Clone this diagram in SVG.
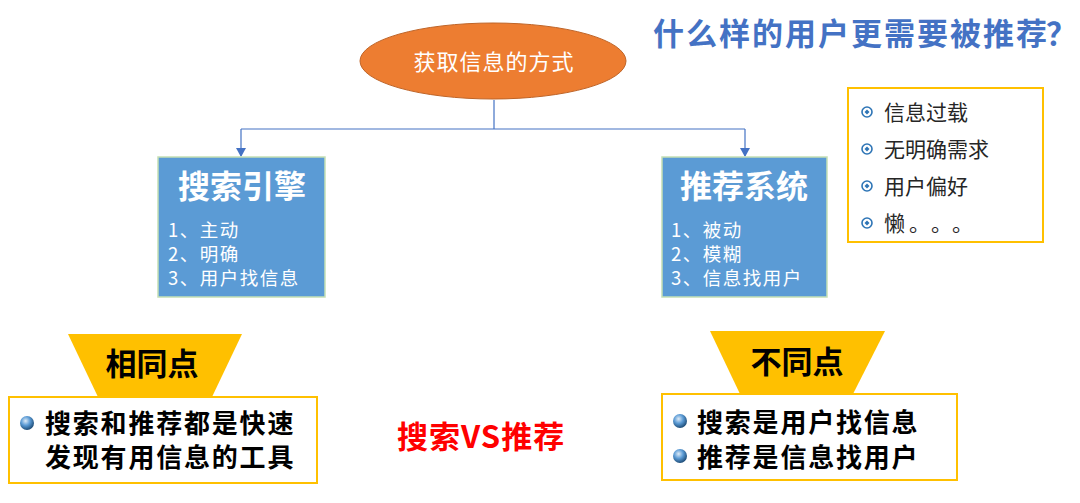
<svg xmlns="http://www.w3.org/2000/svg" width="1080" height="503" viewBox="0 0 1080 503">
<defs>
<style>
text{font-family:"Noto Sans CJK SC","Noto Sans",sans-serif;}
.box{fill:#5B9BD5;stroke:#C5E0B4;stroke-width:1.5;}
.ttl{fill:#fff;font-weight:bold;font-size:32px;text-anchor:middle;}
.itm{fill:#fff;font-size:18.5px;letter-spacing:1.5px;}
.trap{fill:#FFC000;}
.trt{fill:#000;font-weight:bold;font-size:31px;text-anchor:middle;}
.obox{fill:#fff;stroke:#FFC000;stroke-width:2;}
.bt{fill:#000;font-weight:bold;font-size:26px;letter-spacing:1.8px;}
.lt{fill:#262626;font-size:21px;}
.conn{fill:none;stroke:#4472C4;stroke-width:1.2;}
.rb{fill:#fff;stroke:#2E75B6;stroke-width:1.6;}
.rd{fill:#2E75B6;}
</style>
<marker id="arr" markerWidth="10" markerHeight="10" refX="8" refY="5" orient="auto" markerUnits="userSpaceOnUse">
<path d="M0,0 L9,5 L0,10 z" fill="#4472C4"/>
</marker>
<radialGradient id="ball" cx="0.4" cy="0.35" r="0.65">
<stop offset="0" stop-color="#DEEBF7"/>
<stop offset="0.5" stop-color="#5B9BD5"/>
<stop offset="1" stop-color="#1F4E79"/>
</radialGradient>
</defs>
<rect width="1080" height="503" fill="#fff"/>

<g id="connectors">
<path class="conn" d="M494,100 V129 M241,129 H745"/>
<path class="conn" d="M241,129 V156" marker-end="url(#arr)"/>
<path class="conn" d="M745,129 V156" marker-end="url(#arr)"/>
</g>

<g id="root">
<ellipse cx="493" cy="61" rx="133" ry="38" fill="#ED7D31" stroke="#BF6427" stroke-width="1"/>
<text x="494" y="70" fill="#fff" font-size="22" letter-spacing="1" text-anchor="middle">获取信息的方式</text>
</g>

<g id="search">
<rect class="box" x="158" y="157" width="167" height="140"/>
<text class="ttl" x="242" y="198">搜索引擎</text>
<text class="itm" x="168" y="237">1、主动<tspan x="168" dy="24">2、明确</tspan><tspan x="168" dy="24">3、用户找信息</tspan></text>
</g>

<g id="recommend">
<rect class="box" x="662" y="157" width="165" height="140"/>
<text class="ttl" x="744" y="198">推荐系统</text>
<text class="itm" x="671" y="237">1、被动<tspan x="671" dy="24">2、模糊</tspan><tspan x="671" dy="24">3、信息找用户</tspan></text>
</g>

<g id="question">
<text x="653" y="45" fill="#4472C4" font-weight="bold" font-size="31" letter-spacing="2">什么样的用户更需要被推荐<tspan x="1046" letter-spacing="0">？</tspan></text>
</g>

<g id="reasons">
<rect x="848" y="88" width="195" height="154" fill="#fff" stroke="#FFC000" stroke-width="2"/>
<circle class="rb" cx="867" cy="112" r="5"/><path class="rd" d="M867,109.5 L869.5,112 L867,114.5 L864.5,112 z"/>
<circle class="rb" cx="867" cy="149" r="5"/><path class="rd" d="M867,146.5 L869.5,149 L867,151.5 L864.5,149 z"/>
<circle class="rb" cx="867" cy="186" r="5"/><path class="rd" d="M867,183.5 L869.5,186 L867,188.5 L864.5,186 z"/>
<circle class="rb" cx="867" cy="223" r="5"/><path class="rd" d="M867,220.5 L869.5,223 L867,225.5 L864.5,223 z"/>
<text class="lt" x="884" y="120">信息过载</text>
<text class="lt" x="884" y="157">无明确需求</text>
<text class="lt" x="884" y="194">用户偏好</text>
<text class="lt" x="884 909 931 952" y="231">懒。。。</text>
</g>

<g id="same">
<polygon class="trap" points="68,334 242,334 212,397 98,397"/>
<text class="trt" x="152" y="375">相同点</text>
<rect class="obox" x="9" y="397" width="308" height="86"/>
<circle cx="27" cy="423" r="7" fill="url(#ball)"/>
<text class="bt" x="45" y="433">搜索和推荐都是快速<tspan x="45" dy="34">发现有用信息的工具</tspan></text>
</g>

<g id="diff">
<polygon class="trap" points="710,331 885,331 853,394 740,394"/>
<text class="trt" x="797" y="373">不同点</text>
<rect class="obox" x="662" y="394" width="295" height="86"/>
<circle cx="680" cy="421" r="7" fill="url(#ball)"/>
<circle cx="680" cy="456" r="7" fill="url(#ball)"/>
<text class="bt" x="697" y="432">搜索是用户找信息<tspan x="697" dy="35">推荐是信息找用户</tspan></text>
</g>

<g id="vs">
<text x="397" y="448" fill="#FF0000" font-weight="bold" font-size="31" letter-spacing="1">搜索VS推荐</text>
</g>
</svg>
